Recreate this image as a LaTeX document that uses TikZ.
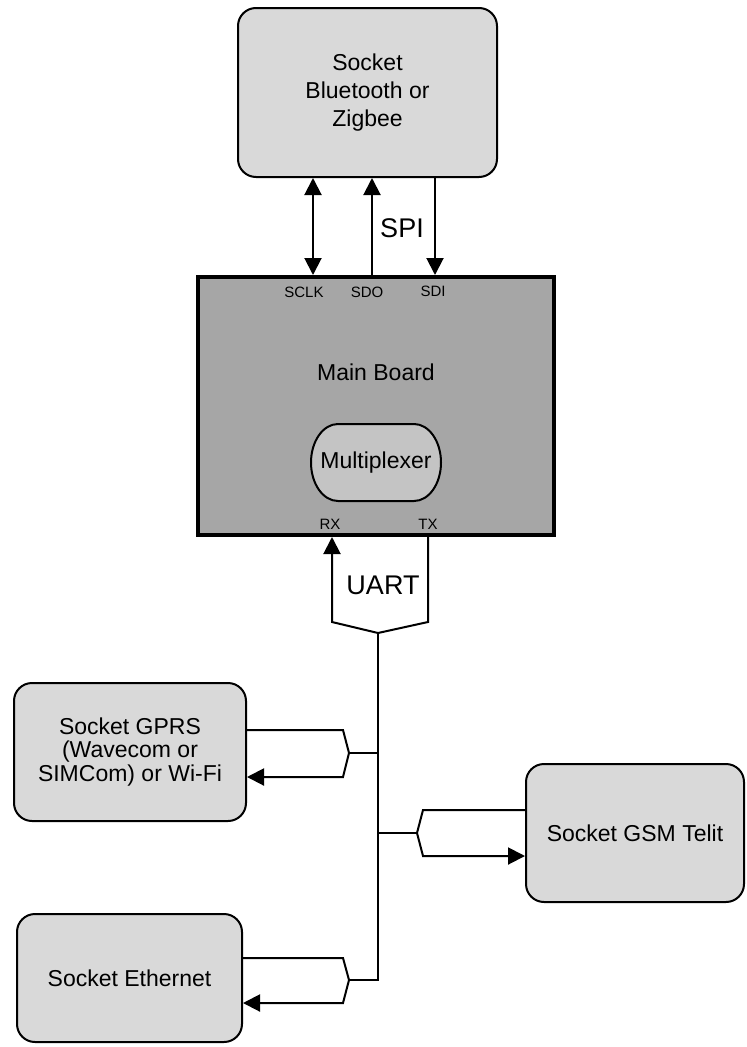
\documentclass[tikz,border=0pt]{standalone}
\usepackage{fontspec}
\setmainfont{Liberation Sans}
\usetikzlibrary{arrows.meta}
\definecolor{sockfill}{HTML}{D9D9D9}
\definecolor{mainfill}{HTML}{A6A6A6}
\definecolor{muxfill}{HTML}{C4C4C4}
\tikzset{
  sock/.style={draw=black, line width=2pt, fill=sockfill, rounded corners=18pt,
    align=center, inner sep=0pt, font=\fontsize{23}{28}\selectfont},
  mainbox/.style={draw=black, line width=4pt, fill=mainfill, inner sep=0pt},
  muxshape/.style={draw=black, line width=2pt, fill=muxfill},
  wire/.style={draw=black, line width=2pt},
  tip/.style={-{Triangle[length=17pt,width=17pt]}},
  dtip/.style={{Triangle[length=17pt,width=17pt]}-{Triangle[length=17pt,width=17pt]}},
  small/.style={font=\fontsize{15}{18}\selectfont, inner sep=0pt},
  big/.style={font=\fontsize{27}{32}\selectfont, inner sep=0pt},
  lbl/.style={font=\fontsize{23}{28}\selectfont, inner sep=0pt},
}
\begin{document}
\begin{tikzpicture}[x=1pt,y=-1pt]
\useasboundingbox (0,0) rectangle (747,1047);
% boxes
\node[sock, minimum width=259pt, minimum height=169pt] (bt) at (367.5,92.5)
  {Socket\\Bluetooth or\\Zigbee};
\node[mainbox, minimum width=356pt, minimum height=258pt] (main) at (376,406) {};
\node[lbl] (mainlbl) at (376,372) {Main Board};
% multiplexer (stadium with elliptic ends)
\draw[muxshape] (338,424) -- (414,424)
  arc[start angle=-90, end angle=90, x radius=27, y radius=38.5]
  -- (338,501)
  arc[start angle=90, end angle=270, x radius=27, y radius=38.5] -- cycle;
\node[lbl] (mux) at (376,462.5) {Multiplexer};
\node[sock, minimum width=232pt, minimum height=138pt,
  font=\fontsize{23}{23.5}\selectfont] (gprs) at (130,752)
  {Socket GPRS\\(Wavecom or\\SIMCom) or Wi-Fi};
\node[sock, minimum width=218pt, minimum height=138pt] (gsm) at (635,833) {Socket GSM Telit};
\node[sock, minimum width=225pt, minimum height=128pt] (eth) at (129.5,978) {Socket Ethernet};
% SPI
\coordinate (xsclk) at (313,0);
\coordinate (xsdo) at (372,0);
\coordinate (xsdi) at (435,0);
\draw[wire,dtip] (bt.south -| xsclk) -- (main.north -| xsclk);
\draw[wire,tip] (main.north -| xsdo) -- (bt.south -| xsdo);
\draw[wire,tip] (bt.south -| xsdi) -- (main.north -| xsdi);
\node[small] (sclk) at (304,292) {SCLK};
\node[small] (sdo) at (367,292) {SDO};
\node[small] (sdi) at (433,291) {SDI};
\node[big] (spi) at (402,228) {SPI};
% UART
\coordinate (xrx) at (332,0);
\coordinate (xtx) at (428,0);
\coordinate (up) at (378,633);
\draw[wire,tip] (main.south -| xtx) -- (428,622) -- (up) -- (332,622) -- (main.south -| xrx);
\node[small] (rx) at (330,524) {RX};
\node[small] (tx) at (428,524) {TX};
\node[big] (uart) at (383,585) {UART};
% trunk
\coordinate (jg) at (378,753);
\coordinate (js) at (378,833);
\coordinate (je) at (378,980);
\draw[wire] (up) -- (je) -- (349,980);
% GPRS
\draw[wire,tip] (gprs.east |- 0,730) -- (343,730) -- (349,753) -- (343,777) -- (gprs.east |- 0,777);
\draw[wire] (349,753) -- (jg);
% GSM
\draw[wire,tip] (gsm.west |- 0,810) -- (423,810) -- (417,833) -- (423,856) -- (gsm.west |- 0,856);
\draw[wire] (417,833) -- (js);
% Ethernet
\draw[wire,tip] (eth.east |- 0,958) -- (343,958) -- (349,980) -- (343,1003) -- (eth.east |- 0,1003);
\end{tikzpicture}
\end{document}
